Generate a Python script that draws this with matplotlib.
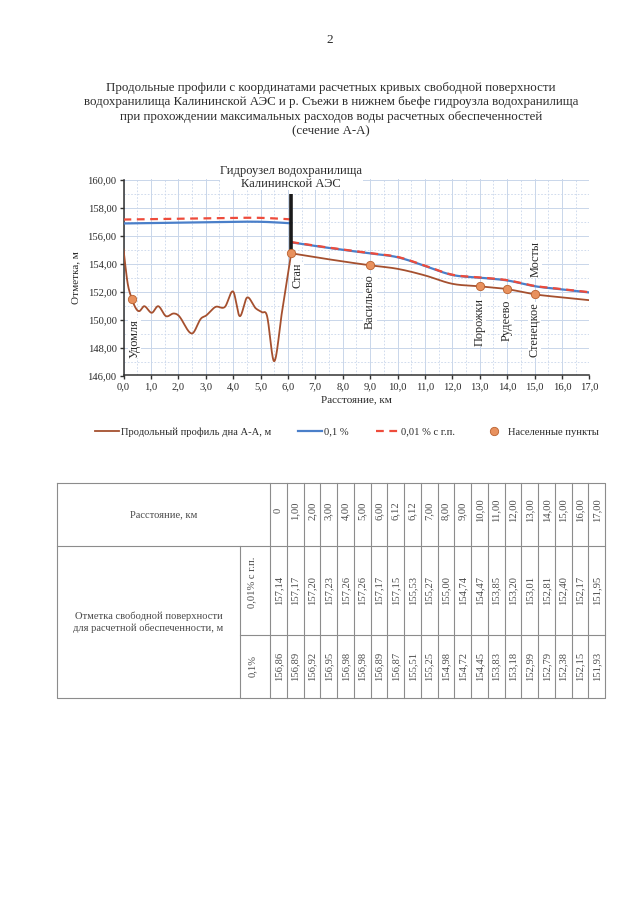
import numpy as np
import matplotlib
matplotlib.use('Agg')
import matplotlib.pyplot as plt
from matplotlib.lines import Line2D
from matplotlib.ticker import MultipleLocator, FuncFormatter

plt.rcParams['font.family'] = ['Liberation Serif', 'DejaVu Serif']

# ---------------- data ----------------
title_lines = [
    "Продольные профили с координатами расчетных кривых свободной поверхности",
    "водохранилища Калининской АЭС и р. Съежи в нижнем бьефе гидроузла водохранилища",
    "при прохождении максимальных расходов воды расчетных обеспеченностей",
    "(сечение А-А)",
]
dist_labels = ["0", "1,00", "2,00", "3,00", "4,00", "5,00", "6,00", "6,12", "6,12",
               "7,00", "8,00", "9,00", "10,00", "11,00", "12,00", "13,00", "14,00",
               "15,00", "16,00", "17,00"]
dist_km = [0, 1, 2, 3, 4, 5, 6, 6.12, 6.12, 7, 8, 9, 10, 11, 12, 13, 14, 15, 16, 17]
level_001 = [157.14, 157.17, 157.20, 157.23, 157.26, 157.26, 157.17, 157.15, 155.53,
             155.27, 155.00, 154.74, 154.47, 153.85, 153.20, 153.01, 152.81, 152.40,
             152.17, 151.95]
level_01 = [156.86, 156.89, 156.92, 156.95, 156.98, 156.98, 156.89, 156.87, 155.51,
            155.25, 154.98, 154.72, 154.45, 153.83, 153.18, 152.99, 152.79, 152.38,
            152.15, 151.93]
n_upstream = 8  # first 8 points belong to the reservoir, rest to the tailwater

bed_up_km = [0.0, 0.15, 0.30, 0.45, 0.58, 0.76, 1.03, 1.27, 1.55, 1.83, 2.03, 2.49,
             2.82, 3.02, 3.36, 3.70, 4.00, 4.24, 4.51, 4.81, 5.05, 5.24, 5.50, 5.78, 6.12]
bed_up_m = [155.0, 152.6, 151.5, 150.8, 150.6, 150.95, 150.48, 150.95, 150.24, 150.43,
            150.24, 149.0, 150.05, 150.29, 150.9, 150.9, 152.0, 150.24, 151.57, 150.83,
            150.52, 150.24, 147.02, 150.48, 154.73]
bed_dn_km = [6.12, 7, 8, 9, 10, 11, 12, 13, 14, 15, 16, 17]
bed_dn_m = [154.73, 154.45, 154.15, 153.87, 153.62, 153.15, 152.55, 152.37, 152.17,
            151.80, 151.58, 151.38]

town_names = ["Удомля", "Стан", "Васильево", "Порожки", "Рудеево", "Стенецкое"]
town_km = [0.30, 6.12, 9.0, 13.0, 14.0, 15.0]
town_m = [151.5, 154.73, 153.87, 152.37, 152.17, 151.80]
extra_label = "Мосты"
dam_label = "Гидроузел водохранилища\nКалининской АЭС"

legend_labels = ["Продольный профиль дна А-А, м", "0,1 %", "0,01 % с г.п.", "Населенные пункты"]

# ---------------- layout ----------------
town_label_pos = [(0.40, 150.05), (6.36, 154.05), (9.0, 153.2), (13.0, 151.57),
                  (14.0, 151.4), (15.0, 151.2)]
extra_label_pos = (15.05, 155.6)

C_BED = '#a5502f'
C_BLUE = '#4a7fc9'
C_RED = '#ee4b3b'
C_MARK = '#e8915e'
C_TXT = '#2a2a2a'
C_GRID = '#c9d6ea'


def smooth(x, y, n=24):
    x = np.asarray(x, float)
    y = np.asarray(y, float)
    k = len(x)
    m = np.zeros(k)
    for i in range(k):
        if i == 0:
            m[i] = (y[1] - y[0]) / (x[1] - x[0])
        elif i == k - 1:
            m[i] = (y[-1] - y[-2]) / (x[-1] - x[-2])
        else:
            m[i] = (y[i + 1] - y[i - 1]) / (x[i + 1] - x[i - 1])
    xs, ys = [], []
    t = np.linspace(0, 1, n, endpoint=False)
    for i in range(k - 1):
        h = x[i + 1] - x[i]
        h00 = 2 * t**3 - 3 * t**2 + 1
        h10 = t**3 - 2 * t**2 + t
        h01 = -2 * t**3 + 3 * t**2
        h11 = t**3 - t**2
        ys.append(h00 * y[i] + h10 * h * m[i] + h01 * y[i + 1] + h11 * h * m[i + 1])
        xs.append(x[i] + t * h)
    xs.append([x[-1]])
    ys.append([y[-1]])
    return np.concatenate(xs), np.concatenate(ys)


fig = plt.figure(figsize=(6.4, 9.22), dpi=100)
W, H = 640, 922

def fx(px):
    return px / W

def fy(py):
    return 1 - py / H

# page number and title
fig.text(fx(330), fy(40), "2", ha='center', va='center', fontsize=9.5, color=C_TXT)
for i, line in enumerate(title_lines):
    fig.text(fx(331), fy(88 + i * 14.5), line, ha='center', va='center',
             fontsize=9.3, color=C_TXT)

# ---------------- chart ----------------
ax = fig.add_axes([fx(123.5), fy(375.5), fx(589.3 - 123.5), (375.5 - 179.5) / H])
ax.set_xlim(0, 17)
ax.set_ylim(146, 160)
ax.xaxis.set_major_locator(MultipleLocator(1))
ax.xaxis.set_minor_locator(MultipleLocator(0.5))
ax.yaxis.set_major_locator(MultipleLocator(2))
ax.yaxis.set_minor_locator(MultipleLocator(1))
ax.xaxis.set_major_formatter(FuncFormatter(lambda v, p: f"{v:.1f}".replace('.', ',')))
ax.yaxis.set_major_formatter(FuncFormatter(lambda v, p: f"{v:.2f}".replace('.', ',')))
ax.grid(which='major', color=C_GRID, lw=0.7, ls='-')
ax.grid(which='minor', color=C_GRID, lw=0.6, ls=(0, (2, 2)))
ax.set_axisbelow(True)
for s in ['top', 'right']:
    ax.spines[s].set_visible(False)
for s in ['left', 'bottom']:
    ax.spines[s].set_color('#333333')
    ax.spines[s].set_linewidth(1.1)
ax.tick_params(which='major', direction='out', length=3, width=1, color='#333333',
               labelsize=7.6, labelcolor=C_TXT, pad=2)
ax.tick_params(which='minor', length=0)
ax.set_xlabel("Расстояние, км", fontsize=8, color=C_TXT, labelpad=3)
ax.set_ylabel("Отметка, м", fontsize=8, color=C_TXT, labelpad=5)

# water surfaces
up = slice(0, n_upstream)
dn = slice(n_upstream, None)
for sl in (up, dn):
    xs, ys = smooth(dist_km[sl], level_01[sl])
    ax.plot(xs, ys, color=C_BLUE, lw=1.6, zorder=3)
    xs, ys = smooth(dist_km[sl], level_001[sl])
    ax.plot(xs, ys, color=C_RED, lw=1.6, ls=(0, (3.5, 2.5)), zorder=4)

# bed profile
for bx, by in ((bed_up_km, bed_up_m), (bed_dn_km, bed_dn_m)):
    xs, ys = smooth(bx, by)
    ax.plot(xs, ys, color=C_BED, lw=1.3, zorder=5)

# dam line
ax.plot([town_km[1], town_km[1]], [town_m[1], 158.95], color='#1a1a1a', lw=2.6,
        zorder=6, solid_capstyle='butt')

# settlements
ax.plot(town_km, town_m, ls='none', marker='o', ms=6, mfc=C_MARK, mec='#b9612f',
        mew=0.6, zorder=7)
for name, (lx, ly) in zip(town_names, town_label_pos):
    ax.text(lx, ly, name, rotation=90, ha='center', va='top', fontsize=8.8, color=C_TXT,
            zorder=8, bbox=dict(boxstyle='square,pad=0.05', fc='white', ec='none'))
ax.text(extra_label_pos[0], extra_label_pos[1], extra_label, rotation=90, ha='center',
        va='top', fontsize=8.8, color=C_TXT, zorder=8,
        bbox=dict(boxstyle='square,pad=0.05', fc='white', ec='none'))
ax.text(town_km[1], 160.15, dam_label, ha='center', va='center', fontsize=9,
        color=C_TXT, linespacing=1.05, zorder=9, clip_on=False,
        bbox=dict(boxstyle='square,pad=0.05', fc='white', ec='none'))

# legend
handles = [Line2D([], [], color=C_BED, lw=1.3),
           Line2D([], [], color=C_BLUE, lw=1.6),
           Line2D([], [], color=C_RED, lw=1.6, ls=(0, (3.5, 2.5))),
           Line2D([], [], ls='none', marker='o', ms=6, mfc=C_MARK, mec='#b9612f', mew=0.6)]
fig.legend(handles, legend_labels, loc='center', bbox_to_anchor=(fx(347), fy(432)),
           ncol=4, frameon=False, fontsize=7.6, handlelength=2.2, handletextpad=0.2,
           columnspacing=2.6, labelcolor=C_TXT)

# ---------------- table ----------------
tb = fig.add_axes([0, 0, 1, 1])
tb.set_xlim(0, W)
tb.set_ylim(H, 0)
tb.axis('off')
L, R = 57, 605
T, Y1, Y2, B = 483, 546, 635, 698
XS, XD = 240, 270
cw = (R - XD) / len(dist_labels)
lc = '#8c8c8c'
lw = 0.8
tb.plot([L, R, R, L, L], [T, T, B, B, T], color=lc, lw=lw)
tb.plot([L, R], [Y1, Y1], color=lc, lw=lw)
tb.plot([XS, R], [Y2, Y2], color=lc, lw=lw)
tb.plot([XS, XS], [Y1, B], color=lc, lw=lw)
for i in range(len(dist_labels)):
    xx = XD + i * cw
    tb.plot([xx, xx], [T, B], color=lc, lw=lw)
tc = '#4a4a4a'
fs = 7.6
tb.text((L + XD) / 2, (T + Y1) / 2, "Расстояние, км", ha='center', va='center',
        fontsize=fs, color=tc)
tb.text((L + XS) / 2, (Y1 + B) / 2, "Отметка свободной поверхности\nдля расчетной обеспеченности, м",
        ha='center', va='center', fontsize=fs, color=tc, linespacing=1.3)
tb.text(XS + 12, (Y1 + Y2) / 2 - 8, "0,01% с г.п.", rotation=90, ha='center', va='center',
        fontsize=fs, color=tc)
tb.text(XS + 12, (Y2 + B) / 2 - 1, "0,1%", rotation=90, ha='center', va='center',
        fontsize=fs, color=tc)
for i in range(len(dist_labels)):
    cx = XD + (i + 0.5) * cw
    tb.text(cx, (T + Y1) / 2 - 4, dist_labels[i], rotation=90, ha='center', va='center',
            fontsize=fs, color=tc)
    tb.text(cx, (Y1 + Y2) / 2, f"{level_001[i]:.2f}".replace('.', ','), rotation=90,
            ha='center', va='center', fontsize=fs, color=tc)
    tb.text(cx, (Y2 + B) / 2, f"{level_01[i]:.2f}".replace('.', ','), rotation=90,
            ha='center', va='center', fontsize=fs, color=tc)

fig.savefig('out.png', dpi=100, facecolor='white')
